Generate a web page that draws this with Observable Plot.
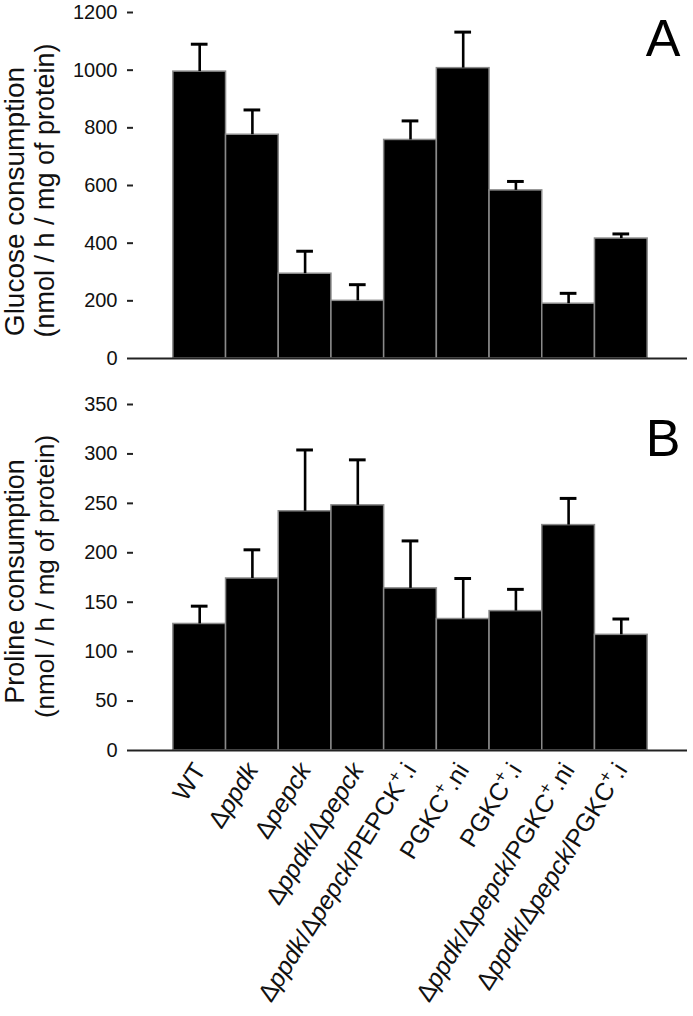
<!DOCTYPE html>
<html><head><meta charset="utf-8">
<script src="https://cdn.jsdelivr.net/npm/d3@7"></script>
<script src="https://cdn.jsdelivr.net/npm/@observablehq/plot@0.6"></script>
<style>
body{margin:0;background:#fff;}
#chart{width:693px;height:1016px;overflow:hidden;}
#chart svg{display:block;}
</style></head><body><div id="chart"></div>
<script>
const strains = ["WT","Δppdk","Δpepck","Δppdk/Δpepck","Δppdk/Δpepck/PEPCK+.i","PGKC+.ni","PGKC+.i","Δppdk/Δpepck/PGKC+.ni","Δppdk/Δpepck/PGKC+.i"];
const glucoseMean  = [995, 776, 294, 200, 758, 1007, 583, 190, 416];
const glucoseUpper = [1090, 862, 372, 256, 824, 1132, 614, 226, 432];
const prolineMean  = [128, 174, 242, 248, 164, 133, 141, 228, 117];
const prolineUpper = [146, 203, 304, 294, 212, 174, 163, 255, 133];
const glucoseTicks = [0, 200, 400, 600, 800, 1000, 1200];
const prolineTicks = [0, 50, 100, 150, 200, 250, 300, 350];
const glucoseTitle = ["Glucose consumption", "(nmol / h / mg of protein)"];
const prolineTitle = ["Proline consumption", "(nmol / h / mg of protein)"];

const FONT = "'Liberation Sans', Arial, Helvetica, sans-serif";

function panel(o) {
  const data = strains.map((s, i) => ({strain: s, mean: o.mean[i], upper: o.upper[i]}));
  const marks = [
    Plot.barY(data, {x: "strain", y: "mean", fill: "#000", stroke: "#8a8a8a", strokeWidth: 1.5}),
    Plot.ruleX(data, {x: "strain", y1: "mean", y2: "upper", stroke: "#000", strokeWidth: 2.6}),
    Plot.tickY(data, {x: "strain", y: "upper", stroke: "#000", strokeWidth: 3, insetLeft: 18, insetRight: 18}),
    Plot.ruleY([0], {stroke: "#222", strokeWidth: 2}),
    Plot.axisY({ticks: o.ticks, tickFormat: d => String(d), tickSize: 6, tickPadding: 10, fontSize: 20, line: true, label: null, stroke: "#222", strokeWidth: 2, fill: "#111"}),
    Plot.text([o.title[0]], {text: d => d, frameAnchor: "left", rotate: -90, lineAnchor: "bottom", textAnchor: "middle", dx: -110, dy: o.t1dy, fontSize: o.t1size, fill: "#111"}),
    Plot.text([o.title[1]], {text: d => d, frameAnchor: "left", rotate: -90, lineAnchor: "bottom", textAnchor: "middle", dx: -80, dy: o.t2dy, fontSize: o.t2size, fill: "#111"}),
    Plot.text([o.letter], {text: d => d, frameAnchor: "top-right", textAnchor: "end", lineAnchor: "bottom", dx: -7, dy: o.letterDy, fontSize: 52, fill: "#000"})
  ];
  if (o.labels) {
    marks.push(Plot.text(strains, {x: d => d, text: d => d, frameAnchor: "bottom", rotate: -58, textAnchor: "end", lineAnchor: "middle", dy: 15, fontSize: 25, fill: "#111"}));
  }
  return Plot.plot({
    width: 693,
    height: o.height,
    marginLeft: 133,
    marginRight: 6,
    marginTop: o.marginTop,
    marginBottom: o.marginBottom,
    style: {fontFamily: FONT, background: "#fff", color: "#111"},
    x: {type: "band", domain: strains, paddingInner: 0, paddingOuter: 0.756, round: false, axis: null},
    y: {domain: [0, o.ticks[o.ticks.length - 1]], axis: null},
    marks
  });
}

const svgA = panel({mean: glucoseMean, upper: glucoseUpper, ticks: glucoseTicks, title: glucoseTitle, letter: "A",
  height: 370, marginTop: 12, marginBottom: 12, t1dy: 16, t2dy: 5, t1size: 28, t2size: 27, letterDy: 43});
const svgB = panel({mean: prolineMean, upper: prolineUpper, ticks: prolineTicks, title: prolineTitle, letter: "B",
  height: 646, marginTop: 34, marginBottom: 266, t1dy: 4, t2dy: -1, t1size: 27, t2size: 26, letterDy: 51, labels: true});

const ns = "http://www.w3.org/2000/svg";
const labelSet = new Set(strains);
d3.select(svgB).selectAll("text").each(function() {
  const s = this.textContent;
  if (!labelSet.has(s) || !/[Δ+]/.test(s)) return;
  const target = this.querySelector("tspan") || this;
  target.textContent = "";
  for (const p of s.split(/(ppdk|pepck|\+)/).filter(Boolean)) {
    const ts = document.createElementNS(ns, "tspan");
    if (p === "ppdk" || p === "pepck") ts.setAttribute("font-style", "italic");
    if (p === "+") { ts.setAttribute("baseline-shift", "super"); ts.setAttribute("font-size", "70%"); }
    ts.textContent = p;
    target.appendChild(ts);
  }
});

document.getElementById("chart").append(svgA, svgB);
</script></body></html>
